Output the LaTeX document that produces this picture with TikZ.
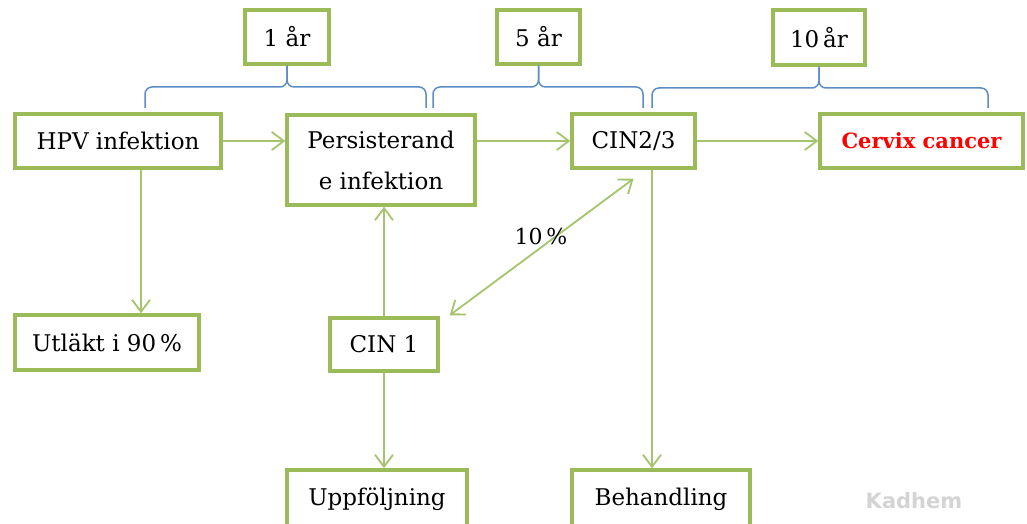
\documentclass[tikz,border=0pt]{standalone}
\usepackage{fontspec}
\setmainfont{DejaVu Serif}
\newfontfamily\wmfont{DejaVu Sans}
\usetikzlibrary{arrows.meta,calc}
\definecolor{boxgreen}{HTML}{9BBB59}
\definecolor{linegreen}{HTML}{A6C46E}
\definecolor{braceblue}{HTML}{5B8CC5}
\definecolor{cancerred}{HTML}{FF0000}
\begin{document}
\begin{tikzpicture}[x=1pt,y=-1pt,
  box/.style={draw=boxgreen,line width=3.5pt,inner sep=0pt,align=center,
    font=\fontsize{23}{41}\selectfont},
  conn/.style={draw=linegreen,line width=1.8pt,
    -{Straight Barb[length=12pt,width=18pt,line width=1.8pt]}},
  dconn/.style={draw=linegreen,line width=1.8pt,
    {Straight Barb[length=12pt,width=18pt,line width=1.8pt]}-{Straight Barb[length=12pt,width=18pt,line width=1.8pt]}},
  brace/.style={draw=braceblue,line width=1.5pt,rounded corners=7pt},
]
\clip (0,0) rectangle (1027,524);
\fill[white] (0,0) rectangle (1027,524);

% time boxes
\node[box,minimum width=84pt,minimum height=54pt] (y1) at (287,37) {1 år};
\node[box,minimum width=83pt,minimum height=54pt] (y5) at (538.5,37) {5 år};
\node[box,minimum width=92pt,minimum height=55pt] (y10) at (819,37.5) {10\,år};

% main boxes
\node[box,minimum width=206pt,minimum height=54pt] (hpv) at (118,141) {HPV infektion};
\node[box,minimum width=188pt,minimum height=90pt] (pers) at (381,160) {Persisterand\\e infektion};
\node[box,minimum width=123pt,minimum height=54pt] (cin23) at (633.5,141) {CIN2/3};
\node[box,minimum width=203pt,minimum height=54pt,text=cancerred,
  font=\fontsize{21}{24}\selectfont\bfseries] (cc) at (921.5,141) {Cervix cancer};
\node[box,minimum width=184pt,minimum height=55pt] (utl) at (107,342.5) {Utläkt i 90\,\%};
\node[box,minimum width=108pt,minimum height=53pt] (cin1) at (384,344.5) {CIN 1};
\node[box,minimum width=180pt,minimum height=58pt] (upp) at (377,499) {Uppföljning};
\node[box,minimum width=178pt,minimum height=58pt] (beh) at (661,499) {Behandling};

% braces
\coordinate (b1l) at (145,108);
\coordinate (b1r) at (426,108);
\coordinate (b2l) at (433,108);
\coordinate (b2r) at (643,108);
\coordinate (b3l) at (652,108);
\coordinate (b3r) at (988,108);
\draw[brace] (b1l) |- (y1.south |- 0,87) -- (y1.south);
\draw[brace] (b1r) |- (y1.south |- 0,87) -- (y1.south);
\draw[brace] (b2l) |- (y5.south |- 0,87) -- (y5.south);
\draw[brace] (b2r) |- (y5.south |- 0,87) -- (y5.south);
\draw[brace] (b3l) |- (y10.south |- 0,88) -- (y10.south);
\draw[brace] (b3r) |- (y10.south |- 0,88) -- (y10.south);

% connectors
\coordinate (xh) at (141,0);
\coordinate (xc) at (652,0);
\draw[conn] (hpv.east) -- (hpv.east -| pers.west);
\draw[conn] (pers.east |- cin23.east) -- (cin23.west);
\draw[conn] (cin23.east) -- (cc.west);
\draw[conn] (hpv.south -| xh) -- (utl.north -| xh);
\draw[conn] (cin1.north) -- (cin1.north |- pers.south);
\draw[conn] (cin1.south) -- (cin1.south |- upp.north);
\draw[conn] (cin23.south -| xc) -- (beh.north -| xc);
\draw[dconn] ($(cin1.north east)+(10,-1)$) -- ($(cin23.south)+(0,9)$);

\node[font=\fontsize{22}{26}\selectfont] (pct) at (541,236) {10\,\%};

% watermark
\node[font=\wmfont\bfseries\fontsize{21}{24}\selectfont,text=black!17] (wm) at (914,501) {Kadhem};
\end{tikzpicture}
\end{document}
